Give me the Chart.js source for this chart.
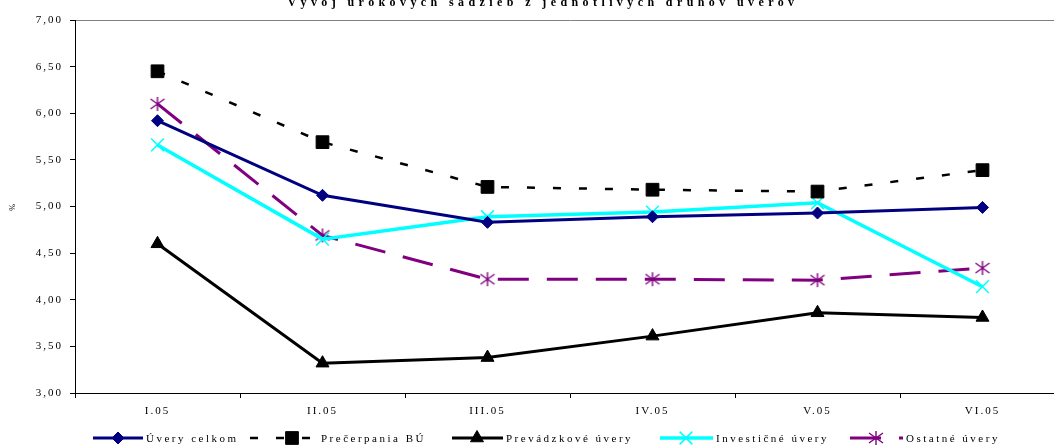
<!DOCTYPE html>
<html>
<head>
<meta charset="utf-8">
<script src="https://cdn.jsdelivr.net/npm/chart.js@4/dist/chart.umd.min.js"></script>
<style>
  html, body { margin: 0; padding: 0; background: #fff; overflow: hidden; width: 1054px; height: 447px; }
  #wrap { position: absolute; left: 0; top: -12px; width: 1080px; height: 459px; }
</style>
</head>
<body>
<div id="wrap"><canvas id="rates"></canvas></div>
<script>
const chartTitle = 'Vývoj úrokových sadzieb z jednotlivých druhov úverov';
const months = ['I.05', 'II.05', 'III.05', 'IV.05', 'V.05', 'VI.05'];
const yTicks = [3, 3.5, 4, 4.5, 5, 5.5, 6, 6.5, 7];

const uveryCelkom  = [5.92, 5.12, 4.83, 4.89, 4.93, 4.99];
const precerpania  = [6.45, 5.69, 5.21, 5.18, 5.16, 5.39];
const prevadzkove  = [4.60, 3.32, 3.38, 3.61, 3.86, 3.81];
const investicne   = [5.66, 4.65, 4.89, 4.94, 5.04, 4.14];
const ostatne      = [6.10, 4.69, 4.22, 4.22, 4.21, 4.34];

// excel-like asterisk: an X with a vertical bar
function asterisk(color) {
  const c = document.createElement('canvas');
  c.width = 16; c.height = 16;
  const g = c.getContext('2d');
  g.strokeStyle = color; g.lineWidth = 1.4;
  g.beginPath();
  g.moveTo(1, 3); g.lineTo(15, 13);
  g.moveTo(15, 3); g.lineTo(1, 13);
  g.moveTo(8, 1); g.lineTo(8, 15);
  g.stroke();
  return c;
}

const series = [
  { label: 'Úvery celkom', data: uveryCelkom, borderColor: '#000080', backgroundColor: '#000080',
    borderWidth: 3, pointStyle: 'rectRot', pointRadius: 6 },
  { label: 'Prečerpania BÚ', data: precerpania, borderColor: '#000', backgroundColor: '#000',
    borderWidth: 2.5, borderDash: [8, 18], pointStyle: 'rect', pointRadius: 9 },
  { label: 'Prevádzkové úvery', data: prevadzkove, borderColor: '#000', backgroundColor: '#000',
    borderWidth: 3, pointStyle: 'triangle', pointRadius: 7.5 },
  { label: 'Investičné úvery', data: investicne, borderColor: '#00FFFF', backgroundColor: '#00FFFF',
    borderWidth: 3.5, pointStyle: 'crossRot', pointRadius: 9, pointBorderWidth: 1.5 },
  { label: 'Ostatné úvery', data: ostatne, borderColor: '#800080', backgroundColor: '#800080',
    borderWidth: 3, borderDash: [31, 18], pointStyle: asterisk('#800080'), pointRadius: 8 }
];

// legend samples: [start x, sample width, marker x]
const legendSlots = [[93, 50, 118], [250, 68, 292], [452, 51, 477], [660, 53, 686], [850, 53, 876]];

const spacing = {
  id: 'spacing',
  beforeUpdate(chart) { chart.ctx.letterSpacing = '2px'; },
  beforeDraw(chart) { chart.ctx.letterSpacing = '2px'; },
  afterDraw(chart) {
    const ctx = chart.ctx;
    ctx.save();
    ctx.fillStyle = '#000';
    ctx.letterSpacing = '4.4px';
    ctx.font = 'bold 12px "Liberation Serif", serif';
    ctx.textAlign = 'center';
    ctx.textBaseline = 'alphabetic';
    ctx.fillText(chartTitle, 543, 18);

    ctx.letterSpacing = '2.5px';
    ctx.font = '11px "Liberation Serif", serif';
    ctx.textAlign = 'left';
    ctx.textBaseline = 'middle';
    const y = 450;
    chart.data.datasets.forEach((ds, i) => {
      const [x, w, mx] = legendSlots[i];
      ctx.save();
      ctx.strokeStyle = ds.borderColor;
      ctx.lineWidth = ds.borderWidth;
      ctx.setLineDash(ds.borderDash || []);
      ctx.beginPath(); ctx.moveTo(x, y); ctx.lineTo(x + w, y); ctx.stroke();
      ctx.setLineDash([]);
      ctx.fillStyle = ds.backgroundColor;
      ctx.lineWidth = ds.pointBorderWidth || 1;
      Chart.helpers.drawPoint(ctx, { pointStyle: ds.pointStyle, radius: ds.pointRadius,
        borderWidth: ds.pointBorderWidth || 1, rotation: 0 }, mx, y);
      ctx.restore();
      ctx.fillStyle = '#000';
      ctx.fillText(ds.label, x + w + 3, y + 1);
    });
    ctx.restore();
  }
};

Chart.defaults.font.family = '"Liberation Serif", serif';
Chart.defaults.font.size = 11;
Chart.defaults.color = '#000';

new Chart(document.getElementById('rates'), {
  type: 'line',
  data: {
    labels: months,
    datasets: series.map(s => Object.assign({ fill: false, tension: 0, pointBorderWidth: 1 }, s))
  },
  options: {
    responsive: true,
    maintainAspectRatio: false,
    animation: false,
    layout: { padding: { top: 32, right: 15, bottom: 29, left: 0 } },
    plugins: { legend: { display: false }, title: { display: false }, tooltip: { enabled: false } },
    scales: {
      x: {
        offset: true,
        afterFit(scale) { scale.height = 25; },
        grid: { offset: true, drawOnChartArea: false, tickLength: 5, tickColor: '#000' },
        border: { color: '#000', width: 1 },
        ticks: { padding: 7, maxRotation: 0 }
      },
      y: {
        min: 3, max: 7,
        afterFit(scale) { scale.width = 75; },
        afterBuildTicks(scale) { scale.ticks = yTicks.map(v => ({ value: v })); },
        grid: {
          color: c => (c.tick && c.tick.value === 7 ? '#808080' : 'rgba(0,0,0,0)'),
          tickLength: 5, tickColor: '#000'
        },
        border: { color: '#000', width: 1 },
        ticks: { padding: 7, callback: v => v.toFixed(2).replace('.', ',') },
        title: { display: true, text: '%', font: { size: 8 }, padding: 8 }
      }
    }
  },
  plugins: [spacing]
});
</script>
</body>
</html>
